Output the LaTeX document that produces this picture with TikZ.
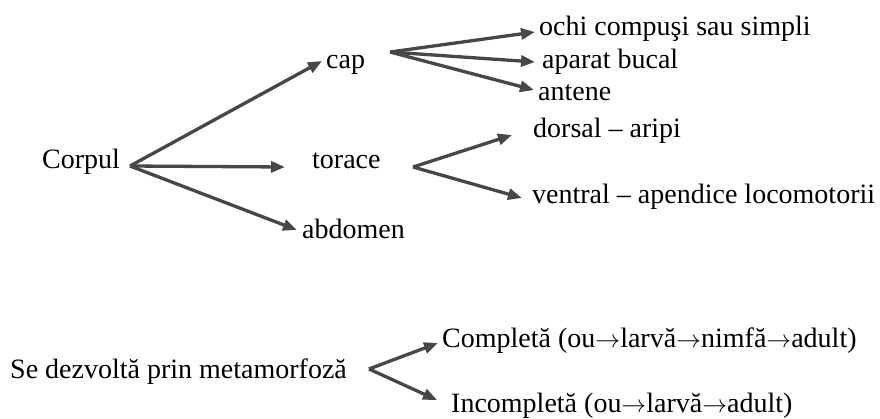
\documentclass[tikz,border=0pt]{standalone}
\usepackage{fontspec}
\setmainfont{Liberation Serif}
\usetikzlibrary{arrows.meta}
\newcommand{\ar}{\ensuremath{\rightarrow}}
\begin{document}
\begin{tikzpicture}[x=1pt,y=-1pt,
  lbl/.style={anchor=base west,inner sep=0pt,font=\fontsize{28}{30}\selectfont,text=black},
  arr/.style={draw=black!72,line width=3.3pt,-{Triangle[length=14pt,width=11pt]}}]
\useasboundingbox (0,0) rectangle (880,418);
% text nodes
\node[lbl] (corpul) at (42,168) {Corpul};
\node[lbl] (cap) at (326,68) {cap};
\node[lbl] (torace) at (312,168) {torace};
\node[lbl] (abdomen) at (302,238) {abdomen};
\node[lbl] (ochi) at (539,35) {ochi compuşi sau simpli};
\node[lbl] (aparat) at (542,68) {aparat bucal};
\node[lbl] (antene) at (538,100) {antene};
\node[lbl] (dorsal) at (533,137) {dorsal – aripi};
\node[lbl] (ventral) at (532,203) {ventral – apendice locomotorii};
\node[lbl] (dezv) at (10,378) {Se dezvoltă prin metamorfoză};
\node[lbl] (compl) at (442,347) {Completă (ou\ar larvă\ar nimfă\ar adult)};
\node[lbl] (incompl) at (451,412) {Incompletă (ou\ar larvă\ar adult)};
% branching points
\coordinate (oC) at (130,166);
\coordinate (oCap) at (390,52);
\coordinate (oTor) at (413,167);
\coordinate (oDezv) at (369,369);
% connectors
\draw[arr] (oC) -- ([xshift=-4pt,yshift=7pt]cap.base west);
\draw[arr] (oC) -- ([xshift=-27pt,yshift=1pt]torace.base west);
\draw[arr] (oC) -- ([xshift=-5pt,yshift=8pt]abdomen.base west);
\draw[arr] (oCap) -- ([xshift=-4pt,yshift=3pt]ochi.base west);
\draw[arr] (oCap) -- ([xshift=-7pt,yshift=6pt]aparat.base west);
\draw[arr] (oCap) -- ([xshift=-4pt,yshift=10pt]antene.base west);
\draw[arr] (oTor) -- ([xshift=-21pt,yshift=2pt]dorsal.base west);
\draw[arr] (oTor) -- ([xshift=-10pt,yshift=5pt]ventral.base west);
\draw[arr] (oDezv) -- ([xshift=-4pt,yshift=4pt]compl.base west);
\draw[arr] (oDezv) -- ([xshift=-14pt,yshift=12pt]incompl.base west);
\end{tikzpicture}
\end{document}
